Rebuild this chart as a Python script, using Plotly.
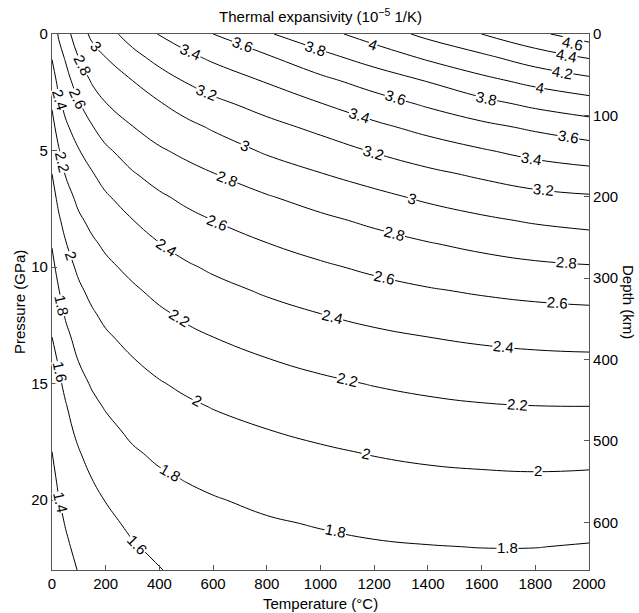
import plotly.graph_objects as go

# ---- data ----
temperature_c = [0, 25, 50, 100, 150, 200, 300, 400, 500, 600, 800, 1000, 1200, 1400, 1600, 1800, 2000]
pressure_gpa = [0, 1, 2, 3, 4, 5, 6, 7, 8, 9, 10, 11, 12, 13, 14, 15, 16, 17, 18, 19, 20, 21, 22, 23]

# thermal expansivity (1e-5 1/K), one row per pressure, one column per temperature
alpha_p00 = [2.47, 2.62, 2.73, 2.91, 3.04, 3.13, 3.28, 3.41, 3.50, 3.60, 3.78, 3.93, 4.09, 4.25, 4.40, 4.56, 4.70]
alpha_p01 = [2.409, 2.533, 2.617, 2.805, 2.928, 3.0, 3.143, 3.260, 3.357, 3.433, 3.576, 3.74, 3.884, 4.032, 4.158, 4.30, 4.414]
alpha_p02 = [2.317, 2.450, 2.531, 2.694, 2.821, 2.897, 3.0, 3.117, 3.214, 3.290, 3.416, 3.552, 3.686, 3.811, 3.947, 4.059, 4.152]
alpha_p03 = [2.219, 2.364, 2.449, 2.585, 2.706, 2.794, 2.897, 2.985, 3.076, 3.153, 3.271, 3.393, 3.512, 3.627, 3.740, 3.842, 3.916]
alpha_p04 = [2.143, 2.273, 2.368, 2.488, 2.590, 2.680, 2.795, 2.882, 2.951, 3.020, 3.141, 3.244, 3.357, 3.458, 3.550, 3.632, 3.707]
alpha_p05 = [2.071, 2.186, 2.288, 2.393, 2.487, 2.570, 2.689, 2.779, 2.843, 2.906, 3.024, 3.115, 3.214, 3.304, 3.385, 3.462, 3.520]
alpha_p06 = [2.0, 2.114, 2.208, 2.318, 2.389, 2.470, 2.586, 2.674, 2.740, 2.795, 2.903, 2.994, 3.080, 3.161, 3.231, 3.300, 3.340]
alpha_p07 = [1.937, 2.043, 2.133, 2.244, 2.316, 2.378, 2.490, 2.573, 2.640, 2.698, 2.786, 2.873, 2.953, 3.032, 3.097, 3.150, 3.180]
alpha_p08 = [1.873, 1.976, 2.059, 2.172, 2.244, 2.304, 2.396, 2.484, 2.548, 2.6, 2.690, 2.762, 2.835, 2.909, 2.969, 3.020, 3.054]
alpha_p09 = [1.810, 1.915, 1.989, 2.103, 2.174, 2.230, 2.321, 2.396, 2.461, 2.513, 2.596, 2.667, 2.732, 2.790, 2.844, 2.890, 2.922]
alpha_p10 = [1.756, 1.855, 1.931, 2.034, 2.110, 2.163, 2.245, 2.321, 2.378, 2.426, 2.509, 2.574, 2.634, 2.687, 2.730, 2.766, 2.786]
alpha_p11 = [1.704, 1.794, 1.874, 1.972, 2.045, 2.100, 2.175, 2.245, 2.304, 2.348, 2.422, 2.487, 2.541, 2.586, 2.622, 2.651, 2.671]
alpha_p12 = [1.652, 1.733, 1.817, 1.917, 1.983, 2.038, 2.114, 2.175, 2.230, 2.274, 2.343, 2.4, 2.450, 2.493, 2.524, 2.547, 2.560]
alpha_p13 = [1.6, 1.673, 1.758, 1.861, 1.928, 1.978, 2.052, 2.113, 2.161, 2.2, 2.268, 2.322, 2.365, 2.4, 2.429, 2.450, 2.461]
alpha_p14 = [1.559, 1.612, 1.697, 1.806, 1.872, 1.922, 1.992, 2.050, 2.097, 2.135, 2.193, 2.243, 2.286, 2.320, 2.344, 2.360, 2.367]
alpha_p15 = [1.518, 1.571, 1.636, 1.750, 1.817, 1.867, 1.939, 1.989, 2.032, 2.071, 2.128, 2.170, 2.208, 2.240, 2.264, 2.278, 2.282]
alpha_p16 = [1.478, 1.536, 1.586, 1.694, 1.763, 1.811, 1.885, 1.936, 1.973, 2.006, 2.062, 2.103, 2.140, 2.166, 2.186, 2.196, 2.198]
alpha_p17 = [1.437, 1.500, 1.550, 1.639, 1.711, 1.759, 1.832, 1.883, 1.919, 1.951, 1.997, 2.037, 2.073, 2.098, 2.116, 2.125, 2.124]
alpha_p18 = [1.397, 1.464, 1.514, 1.589, 1.658, 1.708, 1.780, 1.829, 1.865, 1.896, 1.942, 1.975, 2.007, 2.031, 2.046, 2.054, 2.050]
alpha_p19 = [1.363, 1.429, 1.479, 1.553, 1.605, 1.656, 1.737, 1.779, 1.811, 1.841, 1.888, 1.921, 1.949, 1.968, 1.979, 1.985, 1.979]
alpha_p20 = [1.330, 1.394, 1.443, 1.517, 1.561, 1.605, 1.683, 1.733, 1.765, 1.789, 1.833, 1.866, 1.893, 1.910, 1.921, 1.924, 1.916]
alpha_p21 = [1.297, 1.364, 1.407, 1.481, 1.518, 1.557, 1.634, 1.687, 1.721, 1.746, 1.783, 1.811, 1.837, 1.852, 1.862, 1.864, 1.853]
alpha_p22 = [1.263, 1.334, 1.373, 1.445, 1.474, 1.508, 1.585, 1.641, 1.677, 1.703, 1.742, 1.764, 1.783, 1.795, 1.803, 1.803, 1.790]
alpha_p23 = [1.23, 1.304, 1.34, 1.409, 1.43, 1.46, 1.535, 1.595, 1.633, 1.66, 1.70, 1.72, 1.735, 1.745, 1.748, 1.745, 1.730]

alpha_grid = [alpha_p00, alpha_p01, alpha_p02, alpha_p03, alpha_p04, alpha_p05, alpha_p06, alpha_p07,
              alpha_p08, alpha_p09, alpha_p10, alpha_p11, alpha_p12, alpha_p13, alpha_p14, alpha_p15,
              alpha_p16, alpha_p17, alpha_p18, alpha_p19, alpha_p20, alpha_p21, alpha_p22, alpha_p23]

contour_start, contour_end, contour_step = 1.4, 4.6, 0.2

# inline contour labels: (text, temperature, pressure, angle along the line in degrees)
contour_labels = [
    ("4.6", 1940, 0.42, 12), ("4.4", 1918, 0.93, 11), ("4.2", 1903, 1.65, 10),
    ("4", 1196, 0.43, 20), ("4", 1817, 2.30, 10),
    ("3.8", 983, 0.63, 19), ("3.8", 1620, 2.75, 12),
    ("3.6", 710, 0.47, 20), ("3.6", 1281, 2.74, 17), ("3.6", 1922, 4.41, 10),
    ("3.4", 514, 0.77, 23), ("3.4", 1147, 3.50, 18), ("3.4", 1784, 5.34, 9),
    ("3.2", 577, 2.52, 22), ("3.2", 1196, 5.09, 16), ("3.2", 1829, 6.67, 5),
    ("3", 165, 0.53, 49), ("3", 719, 4.78, 23), ("3", 1341, 7.06, 16),
    ("2.8", 112, 1.33, 63), ("2.8", 652, 6.18, 21), ("2.8", 1277, 8.55, 15), ("2.8", 1918, 9.82, 5),
    ("2.6", 97, 2.75, 66), ("2.6", 615, 8.07, 22), ("2.6", 1240, 10.45, 12), ("2.6", 1881, 11.51, 4),
    ("2.4", 30, 2.80, 74), ("2.4", 428, 9.16, 33), ("2.4", 1043, 12.12, 13), ("2.4", 1680, 13.39, 5),
    ("2.2", 38, 5.48, 77), ("2.2", 473, 12.18, 32), ("2.2", 1099, 14.82, 13), ("2.2", 1732, 15.90, 4),
    ("2", 71, 9.50, 71), ("2", 540, 15.74, 27), ("2", 1169, 18.02, 13), ("2", 1810, 18.75, 0),
    ("1.8", 38, 11.63, 78), ("1.8", 440, 18.81, 30), ("1.8", 1054, 21.32, 11), ("1.8", 1695, 22.05, 0),
    ("1.6", 30, 14.48, 78), ("1.6", 317, 21.90, 46),
    ("1.4", 30, 20.08, 78),
]

temperature_ticks = [0, 200, 400, 600, 800, 1000, 1200, 1400, 1600, 1800, 2000]
pressure_ticks = [0, 5, 10, 15, 20]
depth_ticks_km = [0, 100, 200, 300, 400, 500, 600]
pressure_max_gpa = 23
depth_max_km = 658.5

# ---- figure ----
FONT = "Liberation Sans, Arial, Helvetica, sans-serif"
AXC = "#555555"

fig = go.Figure()
fig.add_trace(go.Contour(
    x=temperature_c, y=pressure_gpa, z=alpha_grid,
    autocontour=False,
    contours=dict(start=contour_start, end=contour_end, size=contour_step,
                  coloring="lines", showlabels=False),
    colorscale=[[0, "black"], [1, "black"]],
    showscale=False,
    line=dict(width=1, smoothing=1.3),
    hoverinfo="skip",
))
# invisible companion trace so the depth axis is drawn
fig.add_trace(go.Scatter(
    x=[temperature_ticks[0]] * len(depth_ticks_km), y=depth_ticks_km, yaxis="y2",
    mode="markers", marker=dict(opacity=0), showlegend=False, hoverinfo="skip",
))

annotations = [
    dict(text=txt, x=t, y=p, xref="x", yref="y", textangle=ang, showarrow=False,
         bgcolor="white", borderpad=0, height=13,
         font=dict(family=FONT, size=15, color="black"))
    for (txt, t, p, ang) in contour_labels
]
annotations += [
    dict(text="Temperature (°C)", xref="paper", yref="paper", x=0.5, y=-0.0625,
         xanchor="center", yanchor="middle", showarrow=False, font=dict(size=15)),
    dict(text="Pressure (GPa)", xref="paper", yref="paper", x=-0.0615, y=0.5,
         xanchor="center", yanchor="middle", textangle=-90, showarrow=False,
         font=dict(size=15)),
    dict(text="Depth (km)", xref="paper", yref="paper", x=1.0745, y=0.5,
         xanchor="center", yanchor="middle", textangle=90, showarrow=False,
         font=dict(size=15)),
]

fig.update_layout(
    width=639, height=613,
    margin=dict(l=52, r=50, t=34, b=43),
    paper_bgcolor="white", plot_bgcolor="white",
    font=dict(family=FONT, size=15, color="black"),
    showlegend=False,
    title=dict(text="Thermal expansivity (10<sup>−5</sup> 1/K)", x=0.5, xref="paper",
               y=1 - 17 / 613, yref="container", xanchor="center", yanchor="middle",
               font=dict(family=FONT, size=15, color="black")),
    xaxis=dict(range=[temperature_c[0], temperature_c[-1]], tickvals=temperature_ticks,
               ticks="inside", ticklen=5, tickcolor=AXC, showline=True, linecolor=AXC,
               linewidth=1.2, mirror=True, showgrid=False, zeroline=False,
               tickfont=dict(size=15)),
    yaxis=dict(range=[pressure_max_gpa, 0], tickvals=pressure_ticks,
               ticks="inside", ticklen=5, tickcolor=AXC, showline=True, linecolor=AXC,
               linewidth=1.2, showgrid=False, zeroline=False, tickfont=dict(size=15)),
    yaxis2=dict(range=[depth_max_km, 0], tickvals=depth_ticks_km, overlaying="y",
                side="right", anchor="x", ticks="inside", ticklen=5, tickcolor=AXC,
                showline=True, linecolor=AXC, linewidth=1.2, showgrid=False,
                zeroline=False, tickfont=dict(size=15)),
    annotations=annotations,
)

fig.write_html("out.html")
